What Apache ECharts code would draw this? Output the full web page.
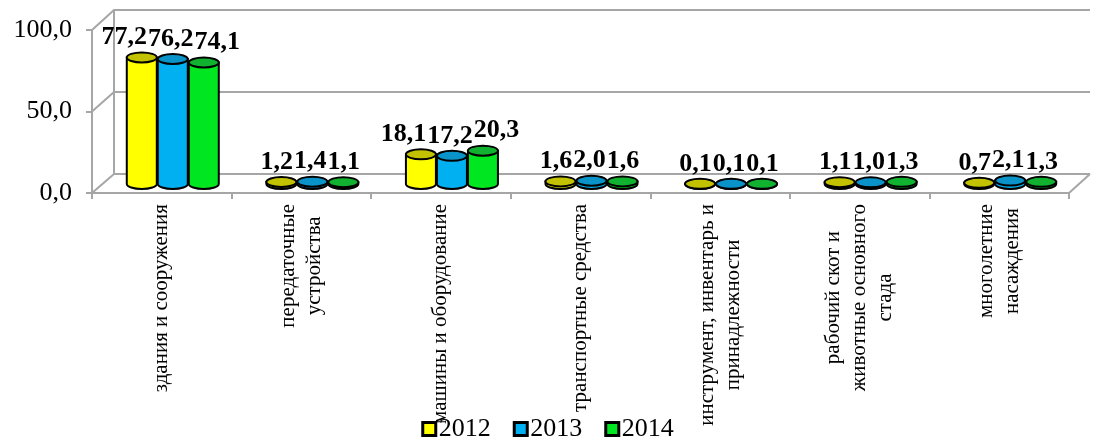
<!DOCTYPE html>
<html>
<head>
<meta charset="utf-8">
<script src="https://cdn.jsdelivr.net/npm/echarts@6/dist/echarts.min.js"></script>
<style>
  html, body { margin: 0; padding: 0; background: #fff; }
  #chart { width: 1095px; height: 442px; }
</style>
</head>
<body>
<div id="chart"></div>
<script>
// категории основных средств
var categories = [
  'здания и сооружения',
  'передаточные\nустройства',
  'машины и оборудование',
  'транспортные средства',
  'инструмент, инвентарь и\nпринадлежности',
  'рабочий скот и\nживотные основного\nстада',
  'многолетние\nнасаждения'
];
var years = ['2012', '2013', '2014'];
var v2012 = [77.2, 1.2, 18.1, 1.6, 0.1, 1.1, 0.7];
var v2013 = [76.2, 1.4, 17.2, 2.0, 0.1, 1.0, 2.1];
var v2014 = [74.1, 1.1, 20.3, 1.6, 0.1, 1.3, 1.3];
var yMin = 0, yMax = 100, yStep = 50;

var sideColors = ['#ffff00', '#00b0f0', '#00e620'];
var topColors = ['#c2c200', '#0a93c8', '#10b230'];
var FONT = '"Liberation Serif", "Times New Roman", serif';
var gray = '#a6a6a6';

function fmt(v) { return v.toFixed(1).replace('.', ','); }

var ctx = document.createElement('canvas').getContext('2d');
ctx.font = 'bold 26px ' + FONT;
function textW(s) { return ctx.measureText(s).width; }

// цилиндр для каждого года
function makeRender(k) {
  return function (params, api) {
    var ci = api.value(0), v = api.value(1);
    var base = api.coord([ci, 0]);
    var top = api.coord([ci, v]);
    var step = 31, rx = 15, ry = 5;
    var cx = base[0] + (k - 1) * step;
    var x0 = cx - rx, x1 = cx + rx, yb = base[1], yt = top[1];
    var body = 'M' + x0 + ' ' + yt + 'L' + x0 + ' ' + yb +
      'A' + rx + ' ' + ry + ' 0 0 0 ' + x1 + ' ' + yb +
      'L' + x1 + ' ' + yt + 'Z';
    var cap = 'M' + x0 + ' ' + yt + 'A' + rx + ' ' + ry + ' 0 1 0 ' + x1 + ' ' + yt +
      'A' + rx + ' ' + ry + ' 0 1 0 ' + x0 + ' ' + yt + 'Z';
    var txt = fmt(v);
    var sp = Math.max(step, textW(txt) + 1);
    return {
      type: 'group',
      children: [
        { type: 'path', shape: { pathData: body }, style: { fill: sideColors[k], stroke: '#000', lineWidth: 2 } },
        { type: 'path', shape: { pathData: cap }, style: { fill: topColors[k], stroke: '#000', lineWidth: 2 } },
        { type: 'text', z2: 10, style: {
            text: txt, x: base[0] + (k - 1) * sp - 2, y: yt - ry - 2,
            align: 'center', verticalAlign: 'bottom',
            font: 'bold 26px ' + FONT, fill: '#000'
        } }
      ]
    };
  };
}

var seriesVals = [v2012, v2013, v2014];
var series = years.map(function (y, k) {
  return {
    name: y,
    type: 'custom',
    xAxisIndex: 2,
    yAxisIndex: 2,
    renderItem: makeRender(k),
    itemStyle: { color: sideColors[k], borderColor: '#000', borderWidth: 3 },
    encode: { x: 0, y: 1 },
    data: seriesVals[k].map(function (v, i) { return [i, v]; })
  };
});

var chart = echarts.init(document.getElementById('chart'));
var option = {
  animation: false,
  backgroundColor: '#fff',
  legend: {
    data: years,
    top: 411,
    left: 'center',
    icon: 'rect',
    itemWidth: 13,
    itemHeight: 13,
    itemGap: 22,
    itemStyle: { borderColor: '#000', borderWidth: 3 },
    textStyle: { fontFamily: FONT, fontSize: 26, color: '#000', padding: [0, 0, 0, -2] }
  },
  grid: [
    { left: 92, right: 26, top: 30, bottom: 249, outerBoundsMode: 'none' },   // передний план
    { left: 114, right: 5, top: 10, bottom: 268, outerBoundsMode: 'none' },   // задняя стенка
    { left: 103, right: 15, top: 20, bottom: 258, outerBoundsMode: 'none' }   // цилиндры
  ],
  xAxis: [
    {
      gridIndex: 0, type: 'category', data: categories,
      axisLine: { lineStyle: { color: gray, width: 2 } },
      axisTick: { show: true, length: 6, lineStyle: { color: gray, width: 2 } },
      axisLabel: {
        rotate: 90, margin: 11, interval: 0, color: '#000',
        formatter: function (v) {
          return v.split('\n').map(function (s) { return '{c|' + s + '}'; }).join('\n');
        },
        rich: { c: { align: 'center', fontFamily: FONT, fontSize: 21, lineHeight: 26, color: '#000' } }
      }
    },
    { gridIndex: 1, type: 'category', data: categories, show: false },
    { gridIndex: 2, type: 'category', data: categories, show: false }
  ],
  yAxis: [
    {
      gridIndex: 0, type: 'value', min: yMin, max: yMax, interval: yStep,
      axisLine: { show: true, lineStyle: { color: gray, width: 2 } },
      axisTick: { show: true, length: 6, lineStyle: { color: gray, width: 2 } },
      splitLine: { show: false },
      axisLabel: { margin: 20, color: '#000', fontFamily: FONT, fontSize: 26, formatter: fmt, padding: [5, 0, 0, 0] }
    },
    {
      gridIndex: 1, type: 'value', min: yMin, max: yMax, interval: yStep,
      axisLine: { show: true, lineStyle: { color: gray, width: 2 } },
      axisTick: { show: false },
      axisLabel: { show: false },
      splitLine: { show: true, lineStyle: { color: gray, width: 2 } }
    },
    { gridIndex: 2, type: 'value', min: yMin, max: yMax, show: false }
  ],
  series: series
};
chart.setOption(option);

// боковая стенка и пол: наклонные линии между передним и задним планом
var lines = [];
[0, 50, 100].forEach(function (t) {
  var yf = chart.convertToPixel({ yAxisIndex: 0 }, t);
  var yb = chart.convertToPixel({ yAxisIndex: 1 }, t);
  lines.push({ type: 'line', shape: { x1: 92, y1: yf, x2: 114, y2: yb }, style: { stroke: gray, lineWidth: 2 } });
});
var yf0 = chart.convertToPixel({ yAxisIndex: 0 }, 0);
var yb0 = chart.convertToPixel({ yAxisIndex: 1 }, 0);
lines.push({ type: 'line', shape: { x1: 1095 - 26, y1: yf0, x2: 1095 - 5, y2: yb0 }, style: { stroke: gray, lineWidth: 2 } });
chart.setOption({ graphic: lines.map(function (l) { l.z = 0; return l; }) });
</script>
</body>
</html>
